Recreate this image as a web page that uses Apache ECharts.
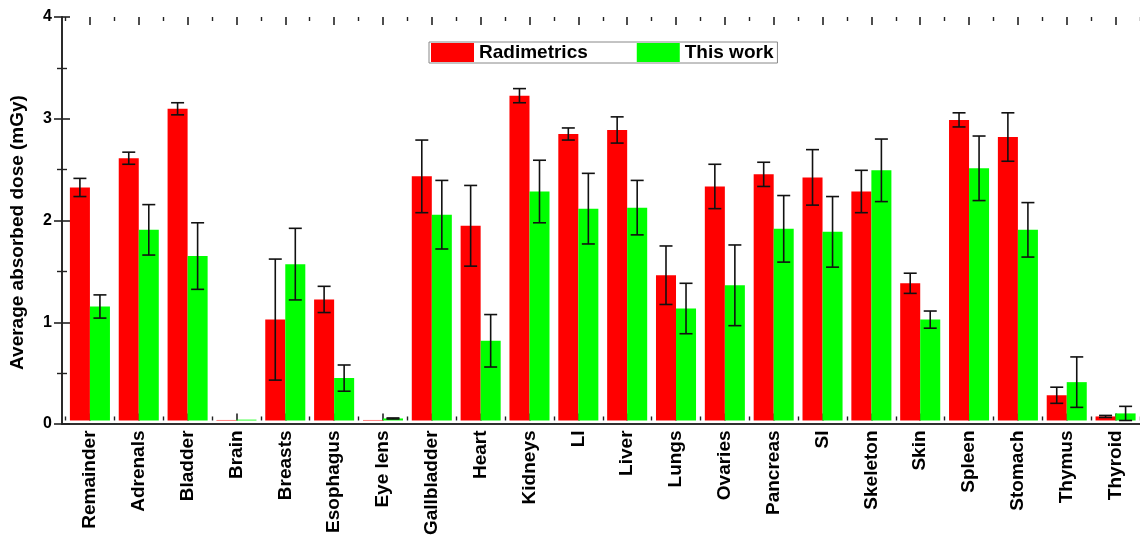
<!DOCTYPE html>
<html>
<head>
<meta charset="utf-8">
<script src="https://cdn.jsdelivr.net/npm/echarts@6/dist/echarts.min.js"></script>
<style>
html,body{margin:0;padding:0;background:#fff;}
#chart{width:1140px;height:538px;}
</style>
</head>
<body>
<div id="chart"></div>
<script>
const categories = ['Remainder','Adrenals','Bladder','Brain','Breasts','Esophagus','Eye lens','Gallbladder','Heart','Kidneys','LI','Liver','Lungs','Ovaries','Pancreas','SI','Skeleton','Skin','Spleen','Stomach','Thymus','Thyroid'];
const radimetrics = [2.31,2.60,3.09,0.005,1.00,1.20,0.005,2.42,1.93,3.22,2.84,2.88,1.44,2.32,2.44,2.41,2.27,1.36,2.98,2.81,0.25,0.04];
const radimetricsErr = [0.09,0.06,0.06,0,0.60,0.13,0,0.36,0.40,0.07,0.06,0.13,0.29,0.22,0.12,0.275,0.21,0.10,0.07,0.24,0.08,0.01];
const thisWork = [1.13,1.89,1.63,0.008,1.55,0.42,0.02,2.04,0.79,2.27,2.10,2.11,1.11,1.34,1.90,1.87,2.48,1.00,2.50,1.89,0.38,0.07];
const thisWorkErr = [0.115,0.25,0.33,0,0.355,0.13,0.005,0.34,0.26,0.31,0.35,0.27,0.25,0.40,0.33,0.35,0.31,0.085,0.32,0.27,0.25,0.07];
const yTicks = [0,1,2,3,4];

const FONT = 'Liberation Sans, Arial, sans-serif';
const AXC = '#222';
const BARW = 0.41;

function errSeries(vals, errs, side) {
  return {
    type: 'custom',
    xAxisIndex: 2, yAxisIndex: 2,
    silent: true, z: 5,
    data: vals.map((v, i) => [i, v, errs[i]]),
    renderItem: function (params, api) {
      const i = api.value(0), v = api.value(1), e = api.value(2);
      if (!e) return null;
      const band = api.size([1, 0])[0];
      const dx = side * band * BARW / 2;
      const top = api.coord([i, v + e]);
      const bot = api.coord([i, v - e]);
      const x = top[0] + dx;
      const cap = 6.5;
      const st = { stroke: '#111', lineWidth: 1.6 };
      return {
        type: 'group',
        children: [
          { type: 'line', shape: { x1: x, y1: top[1], x2: x, y2: bot[1] }, style: st },
          { type: 'line', shape: { x1: x - cap, y1: top[1], x2: x + cap, y2: top[1] }, style: st },
          { type: 'line', shape: { x1: x - cap, y1: bot[1], x2: x + cap, y2: bot[1] }, style: st }
        ]
      };
    }
  };
}

const chart = echarts.init(document.getElementById('chart'));
const hidden = { show: false };
const option = {
  animation: false,
  backgroundColor: '#fff',
  textStyle: { fontFamily: FONT },
  grid: [
    { left: 61, top: 17, width: 1080, height: 407 },
    { left: 65.5, top: 17, width: 1076, height: 407 }
  ],
  legend: {
    data: ['Radimetrics', 'This work'],
    selectedMode: false,
    icon: 'rect',
    left: 429, top: 42,
    itemWidth: 43, itemHeight: 19, itemGap: 49,
    borderColor: '#888', borderWidth: 1,
    padding: [1, 4, 1, 2],
    textStyle: { fontFamily: FONT, fontWeight: 'bold', fontSize: 19, color: '#000' }
  },
  xAxis: [
    { gridIndex: 0, type: 'value', min: 0, max: 1, position: 'bottom',
      axisLine: { show: true, lineStyle: { color: AXC, width: 1.6 } },
      axisTick: hidden, axisLabel: hidden, splitLine: hidden },
    { gridIndex: 0, type: 'value', min: 0, max: 1, position: 'top',
      axisLine: { show: true, lineStyle: { color: AXC, width: 1.6 } },
      axisTick: hidden, axisLabel: hidden, splitLine: hidden },
    { gridIndex: 1, type: 'category', data: categories, position: 'bottom',
      axisLine: hidden,
      axisTick: { show: true, inside: true, alignWithLabel: true, interval: 0, length: 7, lineStyle: { color: AXC, width: 1.6 } },
      axisLabel: { interval: 0, rotate: 90, margin: 10, fontFamily: FONT, fontWeight: 'bold', fontSize: 19, color: '#000' },
      splitLine: hidden },
    { gridIndex: 1, type: 'category', data: categories, position: 'bottom',
      axisLine: hidden,
      axisTick: { show: true, inside: true, alignWithLabel: false, interval: 0, length: 4, lineStyle: { color: AXC, width: 1.4 } },
      axisLabel: hidden, splitLine: hidden },
    { gridIndex: 1, type: 'category', data: categories, position: 'top',
      axisLine: hidden,
      axisTick: { show: true, inside: true, alignWithLabel: true, interval: 0, length: 8, lineStyle: { color: AXC, width: 1.6 } },
      axisLabel: hidden, splitLine: hidden },
    { gridIndex: 1, type: 'category', data: categories, position: 'top',
      axisLine: hidden,
      axisTick: { show: true, inside: true, alignWithLabel: false, interval: 0, length: 4, lineStyle: { color: AXC, width: 1.4 } },
      axisLabel: hidden, splitLine: hidden }
  ],
  yAxis: [
    { gridIndex: 0, type: 'value', position: 'left', min: yTicks[0], max: yTicks[yTicks.length - 1], interval: 1,
      name: 'Average absorbed dose (mGy)', nameLocation: 'middle', nameGap: 35,
      nameTextStyle: { fontFamily: FONT, fontWeight: 'bold', fontSize: 19, color: '#000', padding: [0, 24, 0, 0] },
      axisLine: { show: true, lineStyle: { color: AXC, width: 1.6 } },
      axisTick: { show: true, inside: true, length: 8, lineStyle: { color: AXC, width: 1.6 } },
      minorTick: { show: true, splitNumber: 2, length: 5, lineStyle: { color: AXC, width: 1.4 } },
      axisLabel: { margin: 10, fontFamily: FONT, fontWeight: 'bold', fontSize: 16, color: '#000' },
      splitLine: hidden, minorSplitLine: hidden },
    { gridIndex: 0, type: 'value', position: 'right', min: yTicks[0], max: yTicks[yTicks.length - 1], interval: 1,
      axisLine: { show: true, lineStyle: { color: AXC, width: 1.6 } },
      axisTick: { show: true, inside: true, length: 8, lineStyle: { color: AXC, width: 1.6 } },
      minorTick: { show: true, splitNumber: 2, length: 5, lineStyle: { color: AXC, width: 1.4 } },
      axisLabel: hidden, splitLine: hidden, minorSplitLine: hidden },
    { gridIndex: 1, type: 'value', min: yTicks[0], max: yTicks[yTicks.length - 1], show: false, splitLine: hidden }
  ],
  series: [
    { name: 'Radimetrics', type: 'bar', xAxisIndex: 2, yAxisIndex: 2, data: radimetrics,
      barWidth: (BARW * 100) + '%', barGap: '0%', itemStyle: { color: '#ff0000' } },
    { name: 'This work', type: 'bar', xAxisIndex: 2, yAxisIndex: 2, data: thisWork,
      barWidth: (BARW * 100) + '%', barGap: '0%', itemStyle: { color: '#00ff00' } },
    errSeries(radimetrics, radimetricsErr, -1),
    errSeries(thisWork, thisWorkErr, 1)
  ]
};
chart.setOption(option);
</script>
</body>
</html>
